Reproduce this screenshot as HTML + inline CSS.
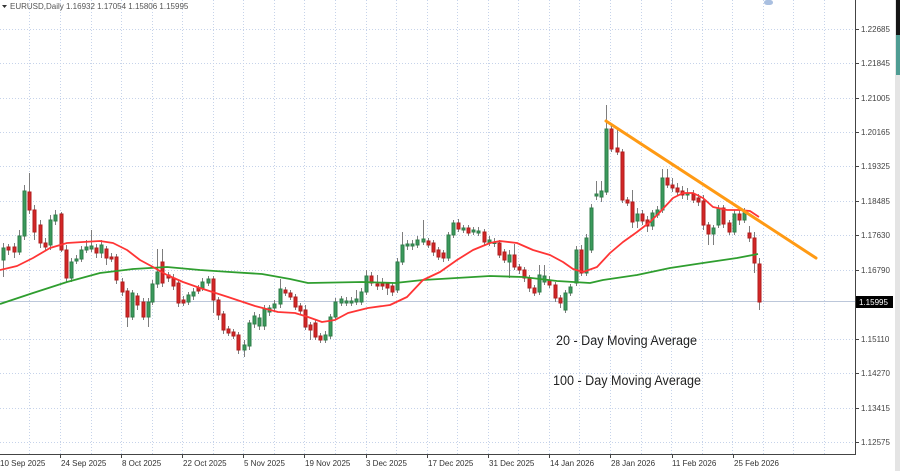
<!DOCTYPE html>
<html><head><meta charset="utf-8"><style>
html,body{margin:0;padding:0;background:#fff;}
svg{display:block;}
text{font-family:"Liberation Sans",Arial,sans-serif;}
</style></head><body>
<svg width="900" height="471" viewBox="0 0 900 471" xmlns="http://www.w3.org/2000/svg">
<rect x="0" y="0" width="900" height="471" fill="#fff"/>
<!-- right strip -->
<rect x="895" y="0" width="5" height="471" fill="#e4e4e4"/>
<rect x="896" y="0" width="4" height="35" fill="#151515"/>
<rect x="896" y="35" width="4" height="40" fill="#4f9c93"/>
<rect x="764" y="0" width="9" height="5" rx="3" fill="#a9bfe0"/>
<!-- grid -->
<g stroke="#c6d3ea" stroke-width="1" stroke-dasharray="1 2" fill="none">
<path d="M0 29.5H855M0 63.5H855M0 98.5H855M0 132.5H855M0 166.5H855M0 201.5H855M0 235.5H855M0 270.5H855M0 339.5H855M0 373.5H855M0 408.5H855M0 442.5H855"/>
<path d="M29.5 0V454M60.5 0V454M91.5 0V454M121.5 0V454M152.5 0V454M182.5 0V454M213.5 0V454M243.5 0V454M274.5 0V454M304.5 0V454M335.5 0V454M366.5 0V454M396.5 0V454M427.5 0V454M457.5 0V454M488.5 0V454M518.5 0V454M549.5 0V454M579.5 0V454M610.5 0V454M641.5 0V454M671.5 0V454M702.5 0V454M732.5 0V454M763.5 0V454M793.5 0V454M824.5 0V454"/>
</g>
<!-- price line -->
<path d="M0 301.5H855" stroke="#bcc7da" stroke-width="1"/>
<!-- wicks -->
<path stroke="#7d7d7d" stroke-width="1" fill="none" d="M3.5 243V277M8.5 244V255M14.5 243V258M19.5 230V255M24.5 185V240M29.5 173V214M34.5 205V240M40.5 220V248M45.5 238V250M50.5 215V250M55.5 210V225M61.5 212V252M66.5 245V282M71.5 258V282M76.5 255V264M81.5 246V262M86.5 240V253M91.5 230V252M96.5 244V258M101.5 240V258M106.5 246V265M111.5 253V262M116.5 254V284M122.5 278V296M127.5 288V327M132.5 290V320M137.5 293V310M143.5 298V320M148.5 298V327M152.5 280V305M157.5 249V288M162.5 249V287M168.5 272V282M173.5 274V290M178.5 280V307M183.5 296V306M188.5 292V305M193.5 288V300M198.5 285V294M202.5 278V291M208.5 276V286M213.5 276V313M218.5 297V320M223.5 311V334M228.5 326V336M233.5 329V339M238.5 332V354M244.5 340V357M249.5 320V350M254.5 312V328M259.5 314V330M264.5 305V330M269.5 305V316M274.5 300V312M280.5 279V308M285.5 287V296M290.5 290V300M295.5 294V310M300.5 303V314M305.5 305V330M310.5 322V340M315.5 320V340M320.5 333V343M325.5 331V343M330.5 314V339M335.5 298V320M341.5 296V306M346.5 297V306M351.5 297V306M356.5 290V305M361.5 288V305M366.5 270V295M371.5 272V286M377.5 275V290M382.5 278V290M387.5 282V295M392.5 283V296M397.5 258V293M402.5 232V265M407.5 240V250M412.5 240V250M417.5 236V248M423.5 220V245M428.5 238V248M433.5 240V256M438.5 247V260M443.5 250V262M448.5 232V261M453.5 220V238M458.5 219V232M463.5 225V233M468.5 225V236M473.5 227V235M478.5 227V236M484.5 229V245M489.5 236V246M494.5 238V247M499.5 240V258M504.5 249V263M509.5 250V278M514.5 244V270M519.5 264V274M524.5 267V282M529.5 275V292M534.5 285V296M539.5 265V295M544.5 265V285M549.5 276V288M555.5 282V302M560.5 295V308M565.5 290V313M570.5 284V296M576.5 246V286M581.5 245V276M586.5 234V276M591.5 204V253M596.5 181V200M601.5 181V202M606.5 105V195M611.5 126V152M617.5 130V155M622.5 149V203M627.5 197V206M632.5 190V228M637.5 208V228M642.5 210V225M647.5 216V232M652.5 210V230M657.5 206V218M662.5 169V213M667.5 169V188M672.5 178V192M677.5 183V196M682.5 186V199M687.5 188V200M693.5 190V203M698.5 194V206M703.5 195V230M708.5 222V245M713.5 225V245M718.5 205V228M723.5 205V228M729.5 220V235M734.5 210V235M739.5 210V225M744.5 208V223M749.5 226V242M754.5 232V273M759.5 258V310"/>
<!-- green bodies -->
<path fill="#3a9a5c" stroke="#2f7d48" stroke-width="1" d="M2 248h3v12h-3zM18 236h3v16h-3zM23 191h3v45h-3zM49 220h3v25h-3zM54 215h3v6h-3zM70 262h3v16h-3zM75 259h3v2h-3zM80 250h3v9h-3zM85 247h3v3h-3zM90 246h3v3h-3zM100 245h3v8h-3zM131 293h3v24h-3zM147 302h3v15h-3zM151 284h3v18h-3zM156 272h3v12h-3zM187 295h3v7h-3zM192 292h3v4h-3zM201 282h3v6h-3zM207 279h3v4h-3zM243 345h3v5h-3zM248 323h3v23h-3zM253 316h3v8h-3zM258 318h3v8h-3zM263 309h3v17h-3zM268 308h3v4h-3zM273 304h3v4h-3zM279 289h3v15h-3zM324 335h3v5h-3zM329 317h3v19h-3zM334 302h3v15h-3zM340 299h3v4h-3zM345 301h3v2h-3zM350 301h3v2h-3zM355 299h3v3h-3zM360 292h3v10h-3zM365 276h3v16h-3zM396 262h3v28h-3zM401 245h3v17h-3zM406 244h3v2h-3zM411 244h3v2h-3zM416 240h3v5h-3zM422 239h3v3h-3zM447 235h3v23h-3zM452 223h3v12h-3zM462 228h3v2h-3zM472 230h3v2h-3zM477 231h3v2h-3zM488 240h3v3h-3zM493 242h3v1.5h-3zM508 255h3v7h-3zM538 275h3v17h-3zM543 276h3v6h-3zM564 293h3v17h-3zM569 287h3v6h-3zM575 250h3v33h-3zM585 238h3v35h-3zM590 208h3v42h-3zM595 194h3v2h-3zM600 191h3v6h-3zM605 129h3v63h-3zM636 214h3v7h-3zM651 213h3v13h-3zM656 210h3v5h-3zM661 178h3v32h-3zM686 193h3v2h-3zM712 228h3v6h-3zM717 208h3v17h-3zM733 214h3v18h-3zM743 213h3v7h-3z"/>
<!-- red bodies -->
<path fill="#d42626" stroke="#b01e1e" stroke-width="1" d="M7 247h3v3h-3zM13 247h3v5h-3zM28 192h3v18h-3zM33 210h3v22h-3zM39 225h3v18h-3zM44 243h3v4h-3zM60 214h3v36h-3zM65 250h3v28h-3zM95 248h3v5h-3zM105 249h3v9h-3zM110 257h3v2h-3zM115 257h3v23h-3zM121 282h3v10h-3zM126 291h3v26h-3zM136 296h3v9h-3zM142 302h3v15h-3zM161 262h3v21h-3zM167 275h3v3h-3zM172 278h3v8h-3zM177 283h3v20h-3zM182 300h3v3h-3zM197 288h3v3h-3zM212 279h3v21h-3zM217 300h3v15h-3zM222 314h3v16h-3zM227 329h3v4h-3zM232 332h3v4h-3zM237 335h3v15h-3zM284 290h3v3h-3zM289 293h3v4h-3zM294 297h3v10h-3zM299 306h3v5h-3zM304 310h3v17h-3zM309 325h3v5h-3zM314 323h3v14h-3zM319 336h3v4h-3zM370 276h3v7h-3zM376 284h3v2h-3zM381 284h3v2h-3zM386 284h3v4h-3zM391 286h3v6h-3zM427 241h3v4h-3zM432 243h3v9h-3zM437 250h3v7h-3zM442 253h3v5h-3zM457 223h3v6h-3zM467 228h3v5h-3zM483 232h3v10h-3zM498 243h3v12h-3zM503 252h3v8h-3zM513 255h3v12h-3zM518 267h3v3h-3zM523 270h3v8h-3zM528 278h3v10h-3zM533 288h3v5h-3zM548 280h3v5h-3zM554 285h3v13h-3zM559 298h3v5h-3zM580 250h3v23h-3zM610 129h3v20h-3zM616 148h3v4h-3zM621 152h3v48h-3zM626 200h3v3h-3zM631 202h3v20h-3zM641 214h3v7h-3zM646 220h3v6h-3zM666 178h3v7h-3zM671 185h3v3h-3zM676 188h3v4h-3zM681 191h3v4h-3zM692 194h3v6h-3zM697 198h3v4h-3zM702 201h3v24h-3zM707 225h3v9h-3zM722 208h3v16h-3zM728 223h3v9h-3zM738 214h3v6h-3zM748 233h3v5h-3zM753 238h3v25h-3zM758 264h3v38h-3z"/>
<!-- 100 MA -->
<polyline fill="none" stroke="#2f9e2f" stroke-width="1.8" stroke-linejoin="round" points="0,304 33,293 67,282 100,273 133,269 167,267 200,270 230,272 262,274 290,279 308,283 362,282 395,283 423,280 490,276 523,277 557,281 590,283 603,280 637,275 670,268 703,263 737,258 758,254"/>
<!-- 20 MA -->
<polyline fill="none" stroke="#ff3535" stroke-width="1.8" stroke-linejoin="round" points="0,270 17,266 33,258 50,248 67,243 83,242 100,241 113,243 127,250 140,260 153,267 167,275 183,282 200,288 228,297 255,306 278,312 295,313 308,317 322,322 335,320 348,313 368,308 390,305 407,297 423,280 440,272 457,260 473,250 490,243 500,241 517,243 533,250 550,255 563,262 573,269 583,272 597,267 610,253 623,242 637,232 650,222 660,212 673,198 683,193 693,193 703,198 713,207 727,210 740,210 750,211 759,217"/>
<!-- trend line -->
<line x1="606" y1="121" x2="816" y2="258" stroke="#ff9a14" stroke-width="3" stroke-linecap="round"/>
<!-- axes -->
<path d="M855.5 0V454.5H0" stroke="#444" stroke-width="1" fill="none"/>
<path stroke="#444" stroke-width="1" d="M855 29.5h4M855 63.5h4M855 98.5h4M855 132.5h4M855 166.5h4M855 201.5h4M855 235.5h4M855 270.5h4M855 339.5h4M855 373.5h4M855 408.5h4M855 442.5h4M60.5 454v4M121.5 454v4M182.5 454v4M243.5 454v4M304.5 454v4M366.5 454v4M427.5 454v4M488.5 454v4M549.5 454v4M610.5 454v4M672.5 454v4M733.5 454v4"/>
<!-- right axis labels -->
<g font-size="8" fill="#444">
<text x="861" y="32">1.22685</text>
<text x="861" y="66">1.21845</text>
<text x="861" y="101">1.21005</text>
<text x="861" y="135">1.20165</text>
<text x="861" y="169">1.19325</text>
<text x="861" y="204">1.18485</text>
<text x="861" y="238">1.17630</text>
<text x="861" y="273">1.16790</text>
<text x="861" y="342">1.15110</text>
<text x="861" y="376">1.14270</text>
<text x="861" y="411">1.13415</text>
<text x="861" y="445">1.12575</text>
</g>
<rect x="856" y="296" width="37" height="12" fill="#000"/>
<text x="859" y="305" font-size="8" fill="#fff">1.15995</text>
<!-- date labels -->
<g font-size="8" fill="#333">
<text x="0" y="466">10 Sep 2025</text>
<text x="61" y="466">24 Sep 2025</text>
<text x="122" y="466">8 Oct 2025</text>
<text x="183" y="466">22 Oct 2025</text>
<text x="244" y="466">5 Nov 2025</text>
<text x="305" y="466">19 Nov 2025</text>
<text x="366" y="466">3 Dec 2025</text>
<text x="428" y="466">17 Dec 2025</text>
<text x="489" y="466">31 Dec 2025</text>
<text x="550" y="466">14 Jan 2026</text>
<text x="611" y="466">28 Jan 2026</text>
<text x="672" y="466">11 Feb 2026</text>
<text x="734" y="466">25 Feb 2026</text>
</g>
<!-- header -->
<path d="M2 5h5l-2.5 3z" fill="#333"/>
<text x="10" y="9" font-size="8" fill="#555">EURUSD,Daily  1.16932 1.17054 1.15806 1.15995</text>
<!-- annotations -->
<text x="556" y="345" font-size="13.5" fill="#222" textLength="141" lengthAdjust="spacingAndGlyphs">20 - Day Moving Average</text>
<text x="553" y="385" font-size="13.5" fill="#222" textLength="148" lengthAdjust="spacingAndGlyphs">100 - Day Moving Average</text>
</svg>
</body></html>
